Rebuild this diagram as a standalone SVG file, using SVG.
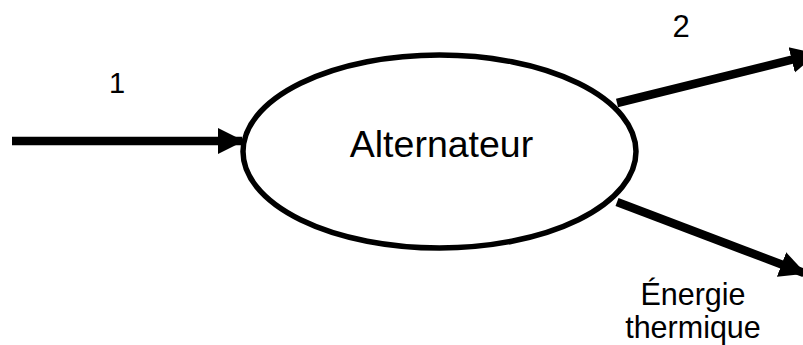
<svg xmlns="http://www.w3.org/2000/svg" width="803" height="345" viewBox="0 0 803 345">
<defs>
<style>
.lbl{font-family:"Liberation Sans",Arial,sans-serif;fill:#000;text-anchor:middle}
.conn{stroke:#000;stroke-width:8.5;fill:none}
.node{fill:#fff;stroke:#000;stroke-width:5.5}
</style>
<marker id="ah" markerUnits="userSpaceOnUse" markerWidth="26" markerHeight="28" refX="24" refY="13" orient="auto" viewBox="0 0 26 26">
<path d="M0,0 L26,13 L0,26 Z" fill="#000"/>
</marker>
</defs>
<rect width="803" height="345" fill="#fff"/>
<g id="connectors">
<line class="conn" x1="12" y1="141" x2="242" y2="141" marker-end="url(#ah)"/>
<line class="conn" x1="617" y1="103" x2="815" y2="54" marker-end="url(#ah)"/>
<line class="conn" x1="617" y1="202" x2="804" y2="273" marker-end="url(#ah)"/>
</g>
<g id="alternateur">
<ellipse class="node" cx="439.5" cy="151.5" rx="196.5" ry="96.5"/>
<text class="lbl" x="441.5" y="157" font-size="37.5">Alternateur</text>
</g>
<g id="labels">
<text class="lbl" x="117" y="93" font-size="29">1</text>
<text class="lbl" x="681" y="37" font-size="31">2</text>
<text class="lbl" x="693" y="305" font-size="30.5">Énergie</text>
<text class="lbl" x="693" y="338" font-size="30.5">thermique</text>
</g>
</svg>
